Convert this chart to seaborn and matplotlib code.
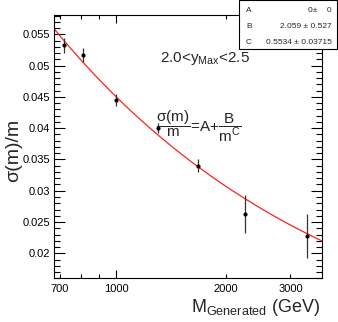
import numpy as np
import pandas as pd
import matplotlib
matplotlib.use("Agg")
import matplotlib.pyplot as plt
from matplotlib.patches import Rectangle
from matplotlib.ticker import FixedLocator, FixedFormatter
import seaborn as sns

# ---- data ----
mass = [720, 810, 1000, 1300, 1680, 2250, 3330]
reso = [0.0533, 0.0517, 0.0445, 0.0400, 0.0340, 0.0263, 0.0228]
reso_err = [0.0012, 0.0011, 0.0009, 0.0008, 0.0010, 0.0030, 0.0035]

# fit parameters  sigma(m)/m = A + B / m^C
fit_names = ["A", "B", "C"]
fit_vals = ["0\u00b1    0", "2.059 \u00b1 0.527", "0.5534 \u00b1 0.03715"]
fit_A, fit_B, fit_C = 0.0, 2.059, 0.5534

xmin, xmax = 676, 3660
ymin, ymax = 0.0160, 0.0581

sns.set_theme(style="ticks")
plt.rcParams["font.family"] = ["Liberation Sans", "DejaVu Sans"]
plt.rcParams["mathtext.fontset"] = "custom"
plt.rcParams["mathtext.rm"] = "Liberation Sans"
plt.rcParams["mathtext.it"] = "Liberation Sans"
plt.rcParams["mathtext.bf"] = "Liberation Sans:bold"
plt.rcParams["mathtext.default"] = "rm"

W, H = 338, 322
fig = plt.figure(figsize=(W / 100, H / 100), dpi=100)
ax = fig.add_axes([54 / W, 1 - 278.3 / H, (322 - 54) / W, (278.3 - 15) / H])

df = pd.DataFrame({"mass": mass, "reso": reso, "err": reso_err})

# fit curve
mgrid = np.geomspace(xmin, xmax, 200)
fit_df = pd.DataFrame({"mass": mgrid, "fit": fit_A + fit_B / mgrid ** fit_C})
sns.lineplot(data=fit_df, x="mass", y="fit", ax=ax, color="#ff2020", lw=0.9, zorder=2)

# points with error bars
ax.errorbar(df["mass"], df["reso"], yerr=df["err"], fmt="none", ecolor="#333333",
            elinewidth=0.9, capsize=0, zorder=3)
sns.scatterplot(data=df, x="mass", y="reso", ax=ax, color="black", s=9,
                edgecolor="black", linewidth=0, zorder=4)

ax.set_xscale("log")
ax.set_xlim(xmin, xmax)
ax.set_ylim(ymin, ymax)
ax.set_xlabel("")
ax.set_ylabel("")

# x ticks
ax.xaxis.set_major_locator(FixedLocator([1000]))
ax.xaxis.set_major_formatter(FixedFormatter(["1000"]))
ax.xaxis.set_minor_locator(FixedLocator([700, 800, 900, 2000, 3000]))
ax.xaxis.set_minor_formatter(FixedFormatter(["700", "", "", "2000", "3000"]))
# y ticks
yt = [0.02, 0.025, 0.03, 0.035, 0.04, 0.045, 0.05, 0.055]
ax.yaxis.set_major_locator(FixedLocator(yt))
ax.yaxis.set_major_formatter(FixedFormatter(["0.02", "0.025", "0.03", "0.035",
                                             "0.04", "0.045", "0.05", "0.055"]))
ax.yaxis.set_minor_locator(FixedLocator(np.arange(0.016, 0.0581, 0.001)))

ax.tick_params(axis="both", which="both", direction="in", top=True, right=True,
               labelsize=8, colors="black", width=0.8)
ax.tick_params(axis="y", which="major", length=8, pad=3)
ax.tick_params(axis="y", which="minor", length=4)
ax.tick_params(axis="x", which="major", length=6, pad=4)
ax.tick_params(axis="x", which="minor", length=3, pad=4, labelsize=8)
for s in ax.spines.values():
    s.set_linewidth(0.8)
    s.set_color("black")

# titles
fig.text(14 / W, 1 - 150 / H, "\u03c3(m)/m", rotation=90, ha="center", va="center",
         fontsize=14)
fig.text(320 / W, 1 - 312 / H, r"M$_{\rm Generated}$ (GeV)", ha="right",
         va="baseline", fontsize=13)

# annotations
fig.text(160 / W, 1 - 62 / H, r"2.0<y$_{\rm Max}$<2.5", ha="left", va="baseline",
         fontsize=11)
fig.text(156 / W, 1 - 126 / H, r"$\dfrac{\sigma(m)}{m}$=A+$\dfrac{B}{m^{C}}$",
         ha="left", va="center", fontsize=11)

# stats box
bx0, by0, bx1, by1 = 239, 0, 337, 49
fig.patches.append(Rectangle((bx0 / W, 1 - by1 / H), (bx1 - bx0) / W, (by1 - by0) / H,
                             transform=fig.transFigure, facecolor="white",
                             edgecolor="black", lw=0.8, zorder=10))
rows_y = [11, 26, 42]
for nm, val, yy in zip(fit_names, fit_vals, rows_y):
    fig.text(246 / W, 1 - yy / H, nm, ha="left", va="center", fontsize=6, zorder=11)
    fig.text(332 / W, 1 - yy / H, val, ha="right", va="center", fontsize=6, zorder=11)

fig.savefig("out.png", dpi=100)
